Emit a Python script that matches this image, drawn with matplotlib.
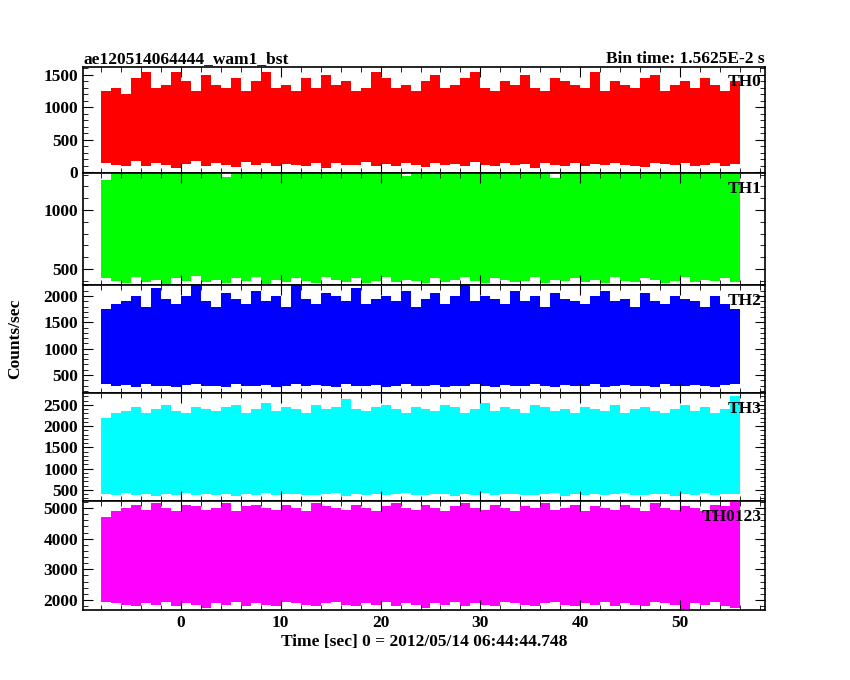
import matplotlib
matplotlib.use("Agg")
import matplotlib.pyplot as plt
import numpy as np

plt.rcParams['font.family'] = ['Liberation Serif', 'DejaVu Serif']
plt.rcParams['font.weight'] = 'bold'

# 1-second envelope bins from -8 to 56 s (upper / lower extremes)
t_edges = list(range(-8, 57))
names = ["TH0", "TH1", "TH2", "TH3", "TH0123"]
colors = ["#ff0000", "#00ff00", "#0000ff", "#00ffff", "#ff00ff"]
ylims = [(-10, 1620), (364, 1313), (158, 2209), (241, 2782), (1674, 5228)]
yticks = [[0, 500, 1000, 1500], [500, 1000], [500, 1000, 1500, 2000],
          [500, 1000, 1500, 2000, 2500], [2000, 3000, 4000, 5000]]

th0_hi = [1250,1300,1200,1450,1550,1300,1350,1550,1400,1250,1500,1350,1300,1450,1250,1400,
          1550,1300,1350,1250,1450,1300,1500,1350,1400,1250,1300,1550,1450,1300,1350,1250,
          1400,1500,1300,1350,1450,1550,1300,1250,1400,1350,1500,1300,1250,1450,1400,1350,
          1300,1550,1250,1400,1350,1300,1450,1500,1250,1350,1400,1300,1450,1350,1250,1400]
th0_lo = [150,120,100,180,90,140,110,60,130,170,100,150,120,80,160,110,140,90,130,120,
          100,150,70,140,120,110,160,90,130,100,150,120,80,140,110,130,90,160,120,100,
          140,110,130,60,150,120,100,140,90,130,110,150,120,100,80,140,130,110,150,90,
          120,140,100,130]
th1_hi = [1313]*64
th1_hi[0] = 1250; th1_hi[12] = 1280; th1_hi[30] = 1290; th1_hi[45] = 1270
th1_lo = [420,400,380,430,390,410,370,420,400,440,390,410,380,420,400,430,370,410,
          390,420,400,380,430,410,390,420,380,400,430,390,410,400,380,420,390,410,
          430,400,380,420,410,390,400,430,380,410,400,420,390,410,380,430,400,390,
          420,410,380,400,430,390,410,400,420,390]
th2_hi = [1750,1850,1900,2000,1800,2150,1950,1850,2000,2200,1900,1800,2050,1950,1850,2100,
          1900,2000,1800,2200,1950,1850,2050,2000,1900,2150,1850,1950,2000,1900,2100,1800,
          1950,2050,1850,2000,2200,1900,2000,1950,1850,2100,1900,2000,1800,2050,1950,1900,
          1850,2000,2100,1900,1950,1800,2050,1900,1850,2000,1950,1900,1800,2000,1850,1750]
th2_lo = [330,300,310,280,320,290,300,270,310,330,290,300,280,320,300,290,310,280,300,
          320,290,310,300,280,320,300,290,310,280,300,320,290,300,310,280,300,290,320,
          300,280,310,300,290,320,300,280,310,290,300,320,280,300,310,290,300,280,320,
          300,290,310,300,280,310,330]
th3_hi = [2200,2300,2350,2450,2300,2400,2500,2350,2300,2450,2400,2350,2450,2500,2300,2400,
          2550,2350,2450,2400,2300,2500,2400,2450,2650,2400,2350,2450,2500,2400,2300,2450,
          2400,2350,2500,2450,2300,2400,2550,2350,2450,2400,2300,2500,2450,2350,2400,2300,
          2450,2400,2350,2500,2300,2400,2450,2350,2300,2400,2500,2350,2450,2300,2400,2700]
th3_lo = [400,380,420,390,410,370,400,380,420,390,400,380,410,370,400,390,420,380,
          400,410,390,380,400,420,370,400,390,410,380,400,420,390,380,400,410,370,
          400,390,420,380,400,410,390,380,400,420,370,400,390,410,380,400,420,390,
          380,400,410,370,400,390,420,380,400,410]
th4_hi = [4700,4900,5000,5100,4950,5150,5000,4900,5100,5050,4950,5000,5150,4900,5050,5100,
          5000,4950,5100,5000,4900,5150,5050,5000,4950,5100,5000,4900,5050,5150,5000,4950,
          5100,5000,4900,5050,5150,5000,4950,5100,5000,4900,5050,5000,5150,4950,5000,5100,
          4900,5050,5000,4950,5100,5000,4900,5150,5000,4950,5050,5000,4900,5100,5050,5200]
th4_lo = [1950,1900,1850,1800,1900,1850,1950,1800,1900,1850,1750,1900,1850,1950,1800,
          1900,1850,1800,1950,1900,1850,1800,1900,1950,1850,1800,1900,1850,1950,1800,
          1900,1850,1750,1900,1850,1950,1800,1900,1850,1800,1950,1900,1850,1800,1900,
          1950,1850,1800,1900,1850,1950,1800,1900,1850,1800,1950,1900,1850,1700,1900,
          1850,1950,1800,1750]
his = [th0_hi, th1_hi, th2_hi, th3_hi, th4_hi]
los = [th0_lo, th1_lo, th2_lo, th3_lo, th4_lo]

FS = 12.5
fig = plt.figure(figsize=(8.5, 6.8), dpi=100)
tops = [67, 173, 285, 393, 501, 610]
L, R = 83/850, 765/850
axes = []
for i in range(5):
    y0 = 1 - tops[i+1]/680
    h = (tops[i+1]-tops[i])/680
    ax = fig.add_axes([L, y0, R-L, h])
    axes.append(ax)
    x = np.array(t_edges)
    hi = np.array(his[i] + [his[i][-1]])
    lo = np.array(los[i] + [los[i][-1]])
    ax.fill_between(x, lo, hi, step='post', color=colors[i], lw=0)
    ax.set_xlim(-9.8, 58.5)
    ax.set_ylim(*ylims[i])
    ax.minorticks_on()
    ax.set_yticks(yticks[i])
    ax.set_xticks(range(0, 60, 10))
    ax.set_xticks(np.arange(-8, 59, 2), minor=True)
    ax.tick_params(which='both', direction='in', top=True, right=True, labelsize=FS)
    ax.tick_params(which='major', length=7)
    ax.tick_params(which='minor', length=3.5)
    ax.text(0.995, 0.93, names[i], transform=ax.transAxes, ha='right', va='top',
            fontsize=FS, fontweight='bold')
    if i < 4:
        ax.tick_params(labelbottom=False)
    for s in ax.spines.values():
        s.set_linewidth(1.2)

axes[0].set_title("ae120514064444_wam1_bst", loc='left', fontsize=FS, fontweight='bold', pad=3)
axes[0].set_title("Bin time: 1.5625E-2 s", loc='right', fontsize=FS, fontweight='bold', pad=3)
axes[4].set_xlabel("Time [sec] 0 = 2012/05/14 06:44:44.748", fontsize=FS, fontweight='bold', labelpad=2)
fig.text(0.008, (1-610/680 + 1-67/680)/2, "Counts/sec", rotation=90, va='center',
         fontsize=FS, fontweight='bold')
fig.savefig("out.png", dpi=100)
